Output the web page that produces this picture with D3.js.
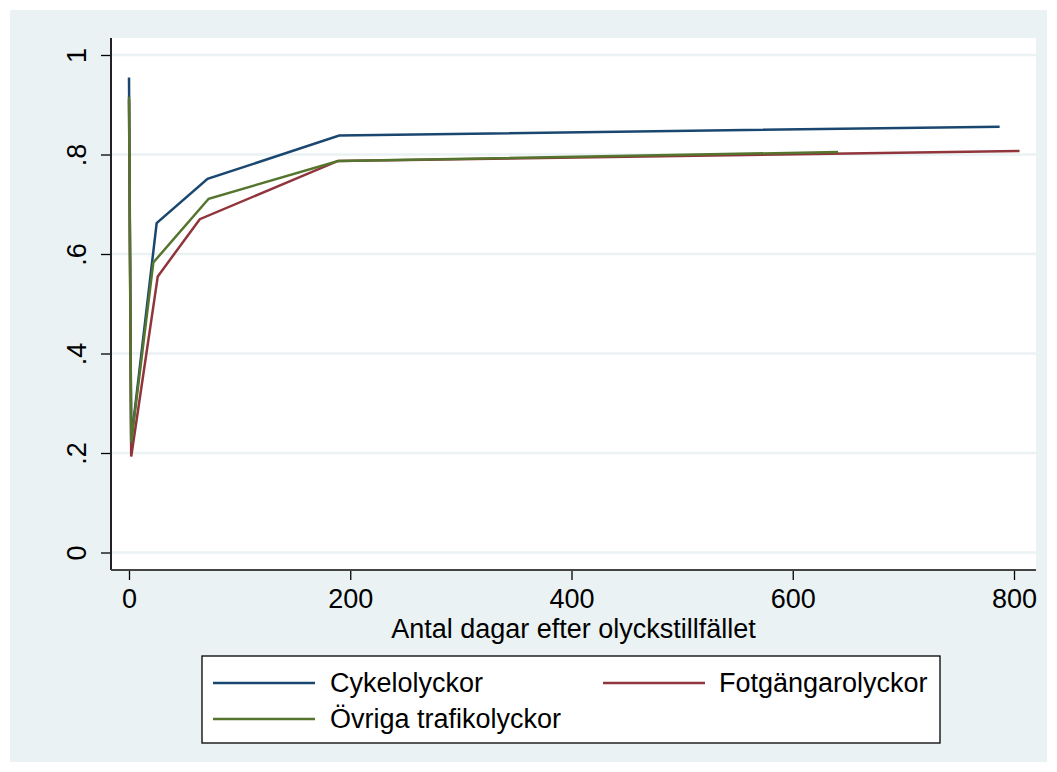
<!DOCTYPE html>
<html>
<head>
<meta charset="utf-8">
<script src="https://cdn.jsdelivr.net/npm/d3@7"></script>
<style>
  html, body { margin: 0; padding: 0; background: #ffffff; }
  svg { display: block; }
  text { font-family: "Liberation Sans", Arial, sans-serif; fill: #000; }
</style>
</head>
<body>
<svg id="chart" width="1057" height="772"></svg>
<script>
// ---- data ----
const seriesNames = ["Cykelolyckor", "Fotgängarolyckor", "Övriga trafikolyckor"];
const seriesColors = ["#1a476f", "#90353b", "#55752f"];
const cykelDays = [0, 2, 25, 71, 190, 787];
const cykelValues = [0.955, 0.225, 0.662, 0.751, 0.838, 0.856];
const fotDays = [0, 2, 26, 64, 189, 805];
const fotValues = [0.91, 0.193, 0.555, 0.670, 0.787, 0.807];
const ovrigaDays = [0, 2, 22, 72, 189, 641];
const ovrigaValues = [0.916, 0.221, 0.583, 0.711, 0.787, 0.805];
const xTicks = [0, 200, 400, 600, 800];
const yTicks = [0, 0.2, 0.4, 0.6, 0.8, 1];
const yTickLabels = ["0", ".2", ".4", ".6", ".8", "1"];
const xTitle = "Antal dagar efter olyckstillfället";

const W = 1057, H = 772;
const bg = "#eaf2f3";
const FS = "27px";
const svg = d3.select("#chart");

// graph region
svg.append("rect").attr("x", 10).attr("y", 10).attr("width", W - 20).attr("height", H - 20).attr("fill", bg);

// plot region
const plot = { left: 111, right: 1036, top: 38, bottom: 570 };
svg.append("rect").attr("x", plot.left).attr("y", plot.top)
  .attr("width", plot.right - plot.left).attr("height", plot.bottom - plot.top).attr("fill", "#fff");

const x = d3.scaleLinear().domain([0, 800]).range([129, 1014]);
const y = d3.scaleLinear().domain([0, 1]).range([552.5, 55]);

// gridlines
svg.append("g").selectAll("line").data(yTicks).join("line")
  .attr("x1", plot.left).attr("x2", plot.right)
  .attr("y1", d => y(d)).attr("y2", d => y(d))
  .attr("stroke", bg).attr("stroke-width", 2.5);

// lines: draw order blue, red, green
const series = [
  { name: seriesNames[0], color: seriesColors[0], pts: cykelDays.map((d, i) => [d, cykelValues[i]]) },
  { name: seriesNames[1], color: seriesColors[1], pts: fotDays.map((d, i) => [d, fotValues[i]]) },
  { name: seriesNames[2], color: seriesColors[2], pts: ovrigaDays.map((d, i) => [d, ovrigaValues[i]]) }
];
const line = d3.line().x(d => x(d[0])).y(d => y(d[1]));
svg.append("g").selectAll("path").data(series).join("path")
  .attr("d", d => line(d.pts)).attr("fill", "none")
  .attr("stroke", d => d.color).attr("stroke-width", 2.5)
  .attr("stroke-linejoin", "miter");

// y axis
const yAxis = d3.axisLeft(y).tickValues(yTicks).tickSize(10).tickFormat((d, i) => yTickLabels[i]);
const gy = svg.append("g").attr("transform", `translate(${plot.left},0)`).call(yAxis);
gy.select(".domain").remove();
gy.selectAll(".tick line").attr("stroke", "#000").attr("stroke-width", 1.3);
gy.selectAll(".tick text").remove();
gy.selectAll(".tick").append("text")
  .attr("transform", "translate(-34,0) rotate(-90)")
  .attr("text-anchor", "middle").attr("dy", "0.35em")
  .style("font-size", FS).style("font-family", "Liberation Sans, Arial, sans-serif")
  .attr("fill", "#000")
  .text((d, i) => yTickLabels[i]);
svg.append("line").attr("x1", plot.left).attr("x2", plot.left)
  .attr("y1", plot.top).attr("y2", plot.bottom).attr("stroke", "#222").attr("stroke-width", 2);

// x axis
const xAxis = d3.axisBottom(x).tickValues(xTicks).tickSize(10).tickFormat(d3.format("d"));
const gx = svg.append("g").attr("transform", `translate(0,${plot.bottom})`).call(xAxis);
gx.select(".domain").remove();
gx.selectAll(".tick line").attr("stroke", "#000").attr("stroke-width", 1.3);
gx.selectAll(".tick text").attr("y", 38).attr("dy", 0)
  .style("font-size", FS).style("font-family", "Liberation Sans, Arial, sans-serif").attr("fill", "#000");
svg.append("line").attr("x1", plot.left).attr("x2", plot.right)
  .attr("y1", plot.bottom).attr("y2", plot.bottom).attr("stroke", "#444").attr("stroke-width", 2);

svg.append("text").attr("x", (plot.left + plot.right) / 2).attr("y", 638)
  .attr("text-anchor", "middle").style("font-size", FS).text(xTitle);

// legend
const lg = svg.append("g");
lg.append("rect").attr("x", 202).attr("y", 656).attr("width", 738).attr("height", 87)
  .attr("fill", "#fff").attr("stroke", "#000").attr("stroke-width", 1.3);
const legendPos = [
  { sx: 213, tx: 330, cy: 683 },
  { sx: 603, tx: 719, cy: 683 },
  { sx: 213, tx: 330, cy: 719 }
];
series.forEach((s, i) => {
  const p = legendPos[i];
  lg.append("line").attr("x1", p.sx).attr("x2", p.sx + 102).attr("y1", p.cy).attr("y2", p.cy)
    .attr("stroke", s.color).attr("stroke-width", 2.5);
  lg.append("text").attr("x", p.tx).attr("y", p.cy).attr("dy", "0.35em")
    .style("font-size", FS).text(s.name);
});
</script>
</body>
</html>
